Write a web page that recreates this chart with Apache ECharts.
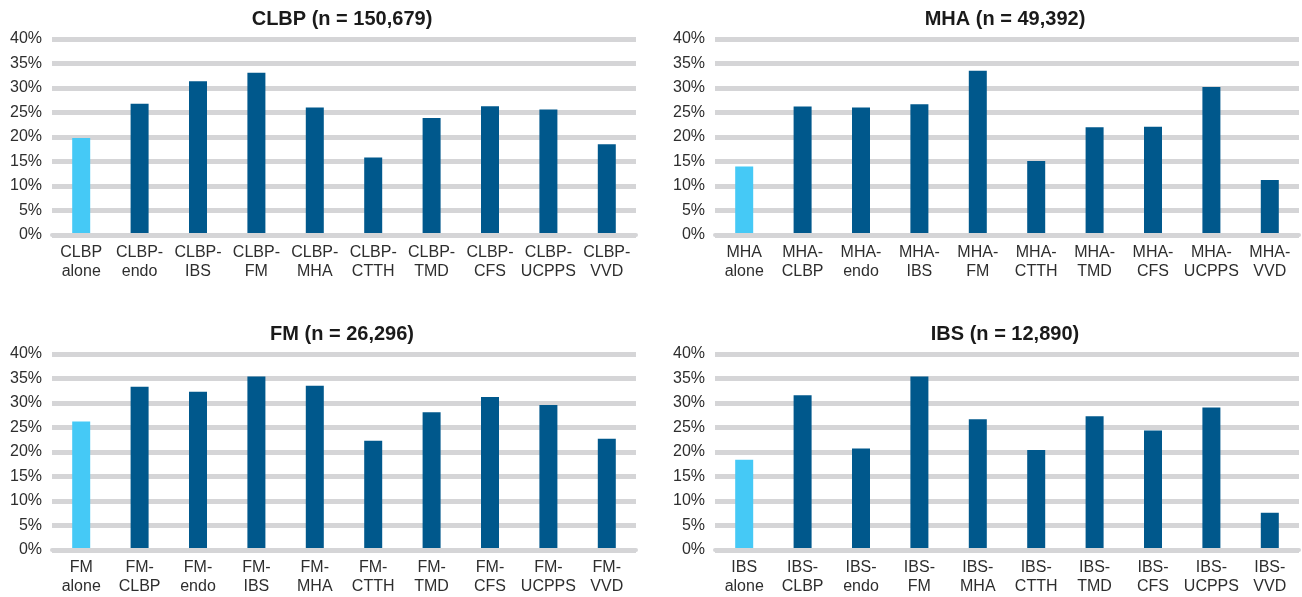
<!DOCTYPE html>
<html>
<head>
<meta charset="utf-8">
<script src="https://cdn.jsdelivr.net/npm/echarts@6/dist/echarts.min.js"></script>
<style>
html,body{margin:0;padding:0;background:#fff;}
#c{width:1302px;height:597px;}
</style>
</head>
<body>
<div id="c"></div>
<script>
// ---- data ----
const clbpCats = ['CLBP\nalone','CLBP-\nendo','CLBP-\nIBS','CLBP-\nFM','CLBP-\nMHA','CLBP-\nCTTH','CLBP-\nTMD','CLBP-\nCFS','CLBP-\nUCPPS','CLBP-\nVVD'];
const clbpVals = [19.8, 26.8, 31.4, 33.1, 26.0, 15.8, 23.9, 26.3, 25.6, 18.5];

const mhaCats = ['MHA\nalone','MHA-\nCLBP','MHA-\nendo','MHA-\nIBS','MHA-\nFM','MHA-\nCTTH','MHA-\nTMD','MHA-\nCFS','MHA-\nUCPPS','MHA-\nVVD'];
const mhaVals = [14.0, 26.2, 26.0, 26.7, 33.5, 15.1, 22.0, 22.1, 30.2, 11.2];

const fmCats = ['FM\nalone','FM-\nCLBP','FM-\nendo','FM-\nIBS','FM-\nMHA','FM-\nCTTH','FM-\nTMD','FM-\nCFS','FM-\nUCPPS','FM-\nVVD'];
const fmVals = [26.2, 33.3, 32.3, 35.4, 33.5, 22.3, 28.1, 31.2, 29.6, 22.7];

const ibsCats = ['IBS\nalone','IBS-\nCLBP','IBS-\nendo','IBS-\nFM','IBS-\nMHA','IBS-\nCTTH','IBS-\nTMD','IBS-\nCFS','IBS-\nUCPPS','IBS-\nVVD'];
const ibsVals = [18.4, 31.6, 20.7, 35.4, 26.7, 20.4, 27.3, 24.4, 29.1, 7.6];

const titles = ['CLBP (n = 150,679)', 'MHA (n = 49,392)', 'FM (n = 26,296)', 'IBS (n = 12,890)'];
const yTicks = [0, 5, 10, 15, 20, 25, 30, 35, 40];

// ---- styling / layout ----
const DARK = '#00588c', LIGHT = '#45c9f6', GRIDC = '#d5d5d7', TXT = '#2e2e2e';
const FONT = '"Liberation Sans", Arial, sans-serif';
const grids = [
  {left: 52,  top: 39,  width: 584, height: 196},
  {left: 715, top: 39,  width: 584, height: 196},
  {left: 52,  top: 354, width: 584, height: 196},
  {left: 715, top: 354, width: 584, height: 196}
];
const panels = [[clbpCats, clbpVals],[mhaCats, mhaVals],[fmCats, fmVals],[ibsCats, ibsVals]];

const option = {
  backgroundColor: '#fff',
  animation: false,
  title: grids.map((g, i) => ({
    text: titles[i],
    left: g.left + g.width / 2 - 2,
    top: g.top - 30,
    textAlign: 'center',
    padding: 0,
    textStyle: {fontFamily: FONT, fontSize: 20, fontWeight: 'bold', color: '#1a1a1a'}
  })),
  grid: grids.map(g => Object.assign({containLabel: false}, g)),
  xAxis: panels.map((p, i) => ({
    type: 'category',
    gridIndex: i,
    data: p[0],
    z: 5,
    axisLine: {show: true, lineStyle: {color: GRIDC, width: 4}},
    axisTick: {show: false},
    axisLabel: {interval: 0, color: TXT, fontFamily: FONT, fontSize: 16, lineHeight: 19, margin: 8}
  })),
  yAxis: panels.map((p, i) => ({
    type: 'value',
    gridIndex: i,
    min: yTicks[0],
    max: yTicks[yTicks.length - 1],
    interval: yTicks[1] - yTicks[0],
    axisLine: {show: false},
    axisTick: {show: false},
    splitLine: {lineStyle: {color: GRIDC, width: 5}},
    axisLabel: {formatter: '{value}%', color: TXT, fontFamily: FONT, fontSize: 16, margin: 10}
  })),
  series: panels.map((p, i) => ({
    type: 'bar',
    xAxisIndex: i,
    yAxisIndex: i,
    barWidth: 18,
    data: p[1].map((v, j) => ({value: v, itemStyle: {color: j === 0 ? LIGHT : DARK}}))
  }))
};

const chart = echarts.init(document.getElementById('c'), null, {renderer: 'canvas'});
chart.setOption(option);
</script>
</body>
</html>
